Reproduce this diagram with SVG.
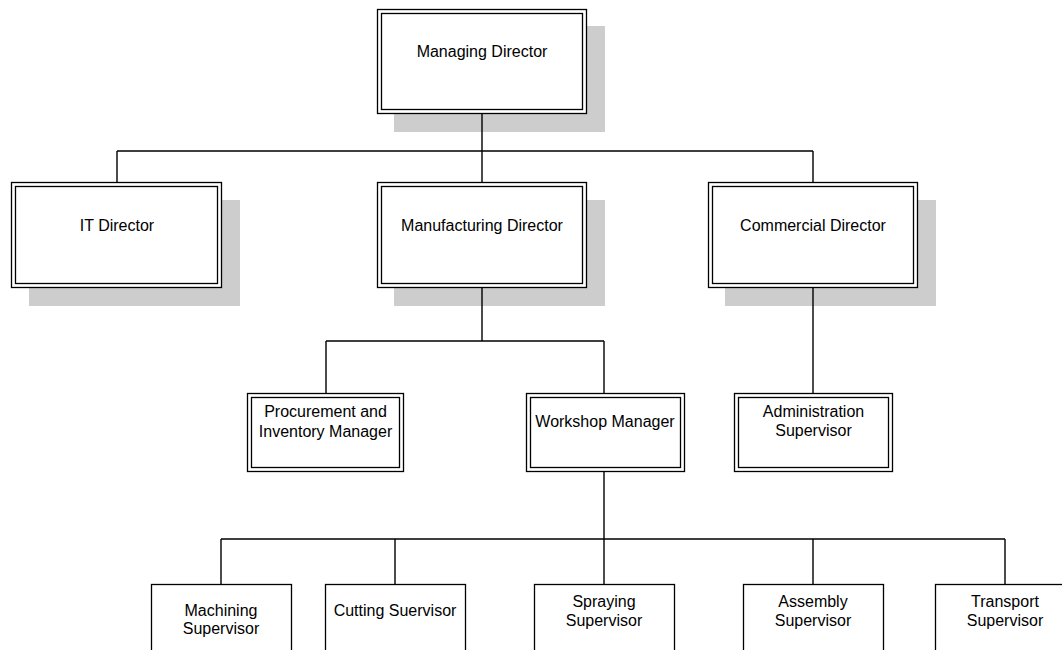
<svg xmlns="http://www.w3.org/2000/svg" width="1062" height="650" viewBox="0 0 1062 650">
<style>
.sh{fill:#cdcdcd;stroke:none}
.ob{fill:#fff;stroke:#000;stroke-width:1.3}
.ib{fill:none;stroke:#000;stroke-width:1.3}
.sb{fill:#fff;stroke:#000;stroke-width:1.3}
.t{font-family:"Liberation Sans",Arial,sans-serif;font-size:16px;fill:#000;text-anchor:middle}
.c{fill:none;stroke:#000;stroke-width:1.4}
</style>
<rect width="1062" height="650" fill="#fff"/>
<g id="managing-director">
<rect class="sh" x="394" y="26" width="211" height="106"/>
<rect class="ob" x="377.5" y="9.5" width="209" height="104"/>
<rect class="ib" x="381.5" y="13.5" width="201" height="96"/>
<text class="t" x="482" y="57">Managing Director</text>
</g>
<g id="it-director">
<rect class="sh" x="29" y="200" width="211" height="106"/>
<rect class="ob" x="11.5" y="182.5" width="210" height="105"/>
<rect class="ib" x="15.5" y="186.5" width="202" height="97"/>
<text class="t" x="117" y="231">IT Director</text>
</g>
<g id="manufacturing-director">
<rect class="sh" x="394" y="200" width="211" height="106"/>
<rect class="ob" x="377.5" y="182.5" width="209" height="105"/>
<rect class="ib" x="381.5" y="186.5" width="201" height="97"/>
<text class="t" x="482" y="231">Manufacturing Director</text>
</g>
<g id="commercial-director">
<rect class="sh" x="725" y="200" width="211" height="106"/>
<rect class="ob" x="708.5" y="182.5" width="209" height="105"/>
<rect class="ib" x="712.5" y="186.5" width="201" height="97"/>
<text class="t" x="813" y="231">Commercial Director</text>
</g>
<g id="procurement-manager">
<rect class="ob" x="247.5" y="393.5" width="156" height="78"/>
<rect class="ib" x="251.5" y="397.5" width="148" height="70"/>
<text class="t" x="325.5" y="417">Procurement and</text>
<text class="t" x="325.5" y="437">Inventory Manager</text>
</g>
<g id="workshop-manager">
<rect class="ob" x="526.5" y="393.5" width="158" height="78"/>
<rect class="ib" x="530.5" y="397.5" width="150" height="70"/>
<text class="t" x="605" y="427">Workshop Manager</text>
</g>
<g id="administration-supervisor">
<rect class="ob" x="734.5" y="393.5" width="158" height="78"/>
<rect class="ib" x="738.5" y="397.5" width="150" height="70"/>
<text class="t" x="813.5" y="417">Administration</text>
<text class="t" x="813.5" y="436">Supervisor</text>
</g>
<g id="machining-supervisor">
<rect class="sb" x="151.5" y="584.5" width="140" height="100"/>
<text class="t" x="221" y="616">Machining</text>
<text class="t" x="221" y="634">Supervisor</text>
</g>
<g id="cutting-supervisor">
<rect class="sb" x="325.5" y="584.5" width="140" height="100"/>
<text class="t" x="395" y="616">Cutting Suervisor</text>
</g>
<g id="spraying-supervisor">
<rect class="sb" x="534.5" y="584.5" width="140" height="100"/>
<text class="t" x="604" y="607">Spraying</text>
<text class="t" x="604" y="626">Supervisor</text>
</g>
<g id="assembly-supervisor">
<rect class="sb" x="743.5" y="584.5" width="140" height="100"/>
<text class="t" x="813" y="607">Assembly</text>
<text class="t" x="813" y="626">Supervisor</text>
</g>
<g id="transport-supervisor">
<rect class="sb" x="935.5" y="584.5" width="140" height="100"/>
<text class="t" x="1005" y="607">Transport</text>
<text class="t" x="1005" y="626">Supervisor</text>
</g>
<g id="connectors">
<path class="c" d="M482 114V151M117 151H813M117 151V183M482 151V183M813 151V183"/>
<path class="c" d="M482 288V341M326 341H604M326 341V393M604 341V393"/>
<path class="c" d="M813 288V393"/>
<path class="c" d="M604 472V539M221 539H1005M221 539V584M395 539V584M604 539V584M813 539V584M1005 539V584"/>
</g>
</svg>
